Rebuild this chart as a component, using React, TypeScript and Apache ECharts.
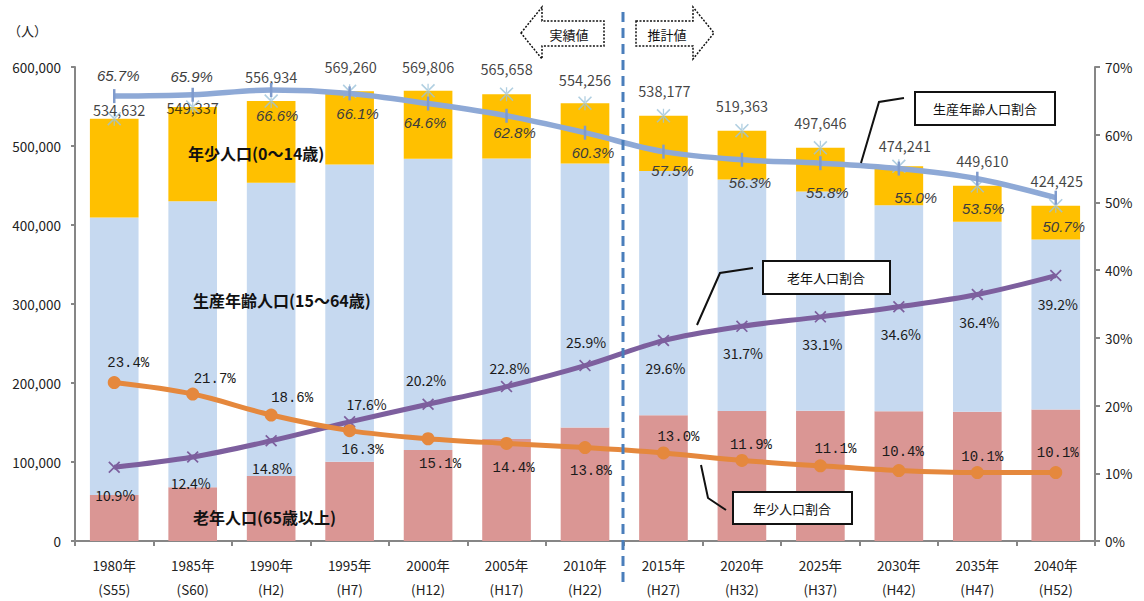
import React, { useEffect, useRef } from "react";
import * as echarts from "echarts";

// ---- data ----
const years = ["1980", "1985", "1990", "1995", "2000", "2005", "2010", "2015", "2020", "2025", "2030", "2035", "2040"];
const eras = ["S55", "S60", "H2", "H7", "H12", "H17", "H22", "H27", "H32", "H37", "H42", "H47", "H52"];
const totalPopulation = [534632, 549337, 556934, 569260, 569806, 565658, 554256, 538177, 519363, 497646, 474241, 449610, 424425];
const elderlyPop = [58275, 68118, 82426, 100190, 115101, 128970, 143552, 159300, 164638, 164721, 164087, 163658, 166375];
const workingPop = [351253, 362013, 370918, 376281, 368664, 355233, 334217, 308914, 292921, 277686, 260833, 240541, 215183];
const youthPop = [125104, 119206, 103590, 92789, 86041, 81455, 76487, 69963, 61804, 55239, 49321, 45411, 42867];
const workingRatio = [65.7, 65.9, 66.6, 66.1, 64.6, 62.8, 60.3, 57.5, 56.3, 55.8, 55.0, 53.5, 50.7];
const elderlyRatio = [10.9, 12.4, 14.8, 17.6, 20.2, 22.8, 25.9, 29.6, 31.7, 33.1, 34.6, 36.4, 39.2];
const youthRatio = [23.4, 21.7, 18.6, 16.3, 15.1, 14.4, 13.8, 13.0, 11.9, 11.1, 10.4, 10.1, 10.1];
const leftTicks = [0, 100000, 200000, 300000, 400000, 500000, 600000];
const rightTicks = [0, 10, 20, 30, 40, 50, 60, 70];

// ---- label placement (offsets from each point, px) ----
const workingNudge = [[4, -21], [-1, -18], [6, 25], [8, 20], [-3, 19], [8, 17], [8, 20], [9, 19], [8, 23], [7, 29], [17, 29], [6, 30], [8, 29]];
const elderlyNudge = [[1, 28], [-2, 26], [1, 27], [17, -18], [-2, -24], [3, -19], [1, -24], [2, 27], [1, 27], [2, 27], [2, 27], [2, 27], [2, 28]];
const youthNudge = [[14, -20], [22, -15], [21, -17], [13, 19], [12, 25], [7, 25], [6, 23], [15, -16], [9, -15], [15, -17], [4, -19], [5, -16], [2, -20]];
const totalNudge = [[5, -9], [0, 0], [0, -25], [1, -25], [0, -24], [0, -26], [0, -24], [1, -25], [0, -25], [0, -25], [6, -21], [5, -25], [1, -25]];

const FONT = "'Noto Sans CJK JP', 'Noto Sans', sans-serif";
const fmtInt = (v: number) => v.toLocaleString("en-US");

const X_SYMBOL = "path://M0,1 L1,0 L5,4 L9,0 L10,1 L6,5 L10,9 L9,10 L5,6 L1,10 L0,9 L4,5 Z";
const STAR_SYMBOL =
  "path://M0,0.8 L0.8,0 L10,9.2 L9.2,10 Z M10,0.8 L9.2,0 L0,9.2 L0.8,10 Z M4.55,0 L5.45,0 L5.45,10 L4.55,10 Z";

function labelled(values: number[], nudges: number[][], fmt: (v: number) => string) {
  return values.map((v, i) => ({
    value: v,
    label: { offset: nudges[i], formatter: fmt(v) },
  }));
}

export default function App() {
  const ref = useRef<HTMLDivElement>(null);

  useEffect(() => {
    document.body.style.margin = "0";
    if (!ref.current) return;
    const chart = echarts.init(ref.current, null, { renderer: "svg" });

    const axisGray = "#868686";
    const categories = years.map((y, i) => `${y}年\n(${eras[i]})`);
    const boldText = (x: number, y: number, text: string) => ({
      type: "text",
      x,
      y,
      z: 20,
      style: { text, fontSize: 16, fontWeight: "bold", fill: "#111", fontFamily: FONT, verticalAlign: "middle" },
    });

    const option: any = {
      animation: false,
      textStyle: { fontFamily: FONT },
      grid: { left: 75, right: 49, top: 67, bottom: 58 },
      xAxis: {
        type: "category",
        data: categories,
        axisLine: { lineStyle: { color: axisGray, width: 2 } },
        axisTick: { show: true, length: 5, lineStyle: { color: axisGray, width: 2 } },
        axisLabel: { color: "#222", fontSize: 13.5, lineHeight: 24, margin: 12, interval: 0, fontFamily: FONT },
      },
      yAxis: [
        {
          type: "value",
          min: leftTicks[0],
          max: leftTicks[leftTicks.length - 1],
          interval: leftTicks[1] - leftTicks[0],
          axisLine: { show: true, lineStyle: { color: axisGray, width: 2 } },
          axisTick: { show: true, length: 4, lineStyle: { color: axisGray, width: 2 } },
          splitLine: { show: false },
          axisLabel: { color: "#222", fontSize: 13.5, margin: 14, formatter: (v: number) => fmtInt(v), fontFamily: FONT },
        },
        {
          type: "value",
          min: rightTicks[0],
          max: rightTicks[rightTicks.length - 1],
          interval: rightTicks[1] - rightTicks[0],
          position: "right",
          axisLine: { show: true, lineStyle: { color: axisGray, width: 2 } },
          axisTick: { show: true, length: 5, lineStyle: { color: axisGray, width: 2 } },
          splitLine: { show: false },
          axisLabel: { color: "#222", fontSize: 13.5, margin: 10, formatter: (v: number) => `${v}%`, fontFamily: FONT },
        },
      ],
      series: [
        {
          name: "老年人口",
          type: "bar",
          stack: "pop",
          barWidth: "62%",
          data: elderlyPop,
          itemStyle: { color: "#DA9694" },
          z: 1,
        },
        {
          name: "生産年齢人口",
          type: "bar",
          stack: "pop",
          data: workingPop,
          itemStyle: { color: "#C6D9F0" },
          z: 1,
        },
        {
          name: "年少人口",
          type: "bar",
          stack: "pop",
          data: youthPop,
          itemStyle: { color: "#FFC000" },
          z: 1,
        },
        {
          name: "総人口",
          type: "scatter",
          data: labelled(totalPopulation, totalNudge, fmtInt),
          symbol: STAR_SYMBOL,
          symbolSize: 14,
          itemStyle: { color: "#9CC3DA" },
          label: {
            show: true,
            position: "inside",
            align: "center",
            verticalAlign: "middle",
            color: "#111",
            fontSize: 14.5,
            fontFamily: FONT,
          },
          z: 2,
        },
        {
          name: "生産年齢人口割合",
          type: "line",
          yAxisIndex: 1,
          smooth: 0.35,
          data: labelled(workingRatio, workingNudge, (v) => `${v.toFixed(1)}%`),
          lineStyle: { color: "#8EA9D6", width: 5.5 },
          symbol: "rect",
          symbolSize: [2.5, 14],
          itemStyle: { color: "#7F9BCD" },
          label: {
            show: true,
            position: "inside",
            align: "center",
            verticalAlign: "middle",
            color: "#3d3d3d",
            fontSize: 15,
            fontStyle: "italic",
            fontFamily: "'Liberation Sans', 'Noto Sans', sans-serif",
          },
          z: 4,
        },
        {
          name: "老年人口割合",
          type: "line",
          yAxisIndex: 1,
          smooth: 0.35,
          data: labelled(elderlyRatio, elderlyNudge, (v) => `${v.toFixed(1)}%`),
          lineStyle: { color: "#7D5F9E", width: 5 },
          symbol: X_SYMBOL,
          symbolSize: 12,
          itemStyle: { color: "#7D5F9E" },
          label: {
            show: true,
            position: "inside",
            align: "center",
            verticalAlign: "middle",
            color: "#1a1a1a",
            fontSize: 14,
            fontFamily: FONT,
          },
          z: 4,
        },
        {
          name: "年少人口割合",
          type: "line",
          yAxisIndex: 1,
          smooth: 0.35,
          data: labelled(youthRatio, youthNudge, (v) => `${v.toFixed(1)}%`),
          lineStyle: { color: "#E5883D", width: 5 },
          symbol: "circle",
          symbolSize: 13,
          itemStyle: { color: "#E5883D" },
          label: {
            show: true,
            position: "inside",
            align: "center",
            verticalAlign: "middle",
            color: "#1a1a1a",
            fontSize: 14,
            fontFamily: "'Liberation Mono', 'DejaVu Sans Mono', monospace",
          },
          z: 4,
        },
      ],
      graphic: [
        // unit
        { type: "text", left: 8, top: 24, style: { text: "（人）", fontSize: 13, fill: "#222", fontFamily: FONT } },
        // category titles inside bars
        boldText(188, 153, "年少人口(0～14歳)"),
        boldText(193, 300, "生産年齢人口(15～64歳)"),
        boldText(193, 517, "老年人口(65歳以上)"),
        // divider
        {
          type: "line",
          shape: { x1: 623, y1: 12, x2: 623, y2: 588 },
          style: { stroke: "#4A7EBB", lineWidth: 3, lineDash: [10, 6] },
          z: 10,
        },
        // arrows
        {
          type: "polygon",
          shape: { points: [[521, 33], [542, 7], [542, 21], [604, 21], [604, 46], [542, 46], [542, 59]] },
          style: { fill: "#fff", stroke: "#111", lineWidth: 1.5, lineDash: [2, 1.5] },
          z: 10,
        },
        { type: "text", x: 569, y: 34, style: { text: "実績値", fontSize: 13, fill: "#111", fontFamily: FONT, align: "center", verticalAlign: "middle" }, z: 11 },
        {
          type: "polygon",
          shape: { points: [[636, 21], [693, 21], [693, 7], [714, 33], [693, 59], [693, 46], [636, 46]] },
          style: { fill: "#fff", stroke: "#111", lineWidth: 1.5, lineDash: [2, 1.5] },
          z: 10,
        },
        { type: "text", x: 667, y: 34, style: { text: "推計値", fontSize: 13, fill: "#111", fontFamily: FONT, align: "center", verticalAlign: "middle" }, z: 11 },
        // callouts
        { type: "polyline", shape: { points: [[904, 98], [879, 102], [861, 163]] }, style: { stroke: "#111", lineWidth: 2, fill: null }, z: 10 },
        { type: "rect", shape: { x: 915, y: 92, width: 140, height: 33 }, style: { fill: "#fff", stroke: "#111", lineWidth: 2 }, z: 10 },
        { type: "text", x: 985, y: 108.5, style: { text: "生産年齢人口割合", fontSize: 13, fill: "#111", fontFamily: FONT, align: "center", verticalAlign: "middle" }, z: 11 },

        { type: "polyline", shape: { points: [[753, 268], [720, 273], [697, 325]] }, style: { stroke: "#111", lineWidth: 2, fill: null }, z: 10 },
        { type: "rect", shape: { x: 763, y: 261, width: 127, height: 33 }, style: { fill: "#fff", stroke: "#111", lineWidth: 2 }, z: 10 },
        { type: "text", x: 826, y: 277.5, style: { text: "老年人口割合", fontSize: 13, fill: "#111", fontFamily: FONT, align: "center", verticalAlign: "middle" }, z: 11 },

        { type: "polyline", shape: { points: [[726, 510], [708, 498], [701, 465]] }, style: { stroke: "#111", lineWidth: 2, fill: null }, z: 10 },
        { type: "rect", shape: { x: 733, y: 492, width: 119, height: 32 }, style: { fill: "#fff", stroke: "#111", lineWidth: 2 }, z: 10 },
        { type: "text", x: 792, y: 508, style: { text: "年少人口割合", fontSize: 13, fill: "#111", fontFamily: FONT, align: "center", verticalAlign: "middle" }, z: 11 },
      ],
    };

    chart.setOption(option);
    return () => chart.dispose();
  }, []);

  return <div ref={ref} style={{ width: 1144, height: 601 }} />;
}
